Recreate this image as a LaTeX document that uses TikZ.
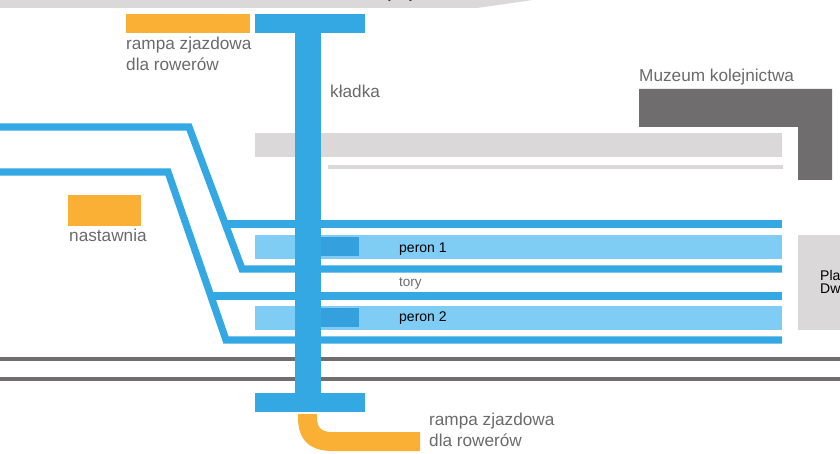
\documentclass[tikz,border=0pt]{standalone}
\usepackage{fontspec}
\setmainfont{Liberation Sans}
\definecolor{bluedark}{HTML}{34A8E2}
\definecolor{bluelight}{HTML}{7FCDF5}
\definecolor{bluemid}{HTML}{34A0DE}
\definecolor{greylight}{HTML}{DAD8D9}
\definecolor{greydark}{HTML}{6F6D6E}
\definecolor{orangeb}{HTML}{FAB034}
\definecolor{labelgrey}{HTML}{6A6A6A}
\tikzset{
 track/.style={draw=bluedark,line width=7.2pt,line join=miter},
 rail/.style={draw=greydark,line width=4.5pt},
 lbl/.style={inner sep=0pt,anchor=base west,text=labelgrey,font=\fontsize{17.2}{20.5}\selectfont,align=left},
 lblsmall/.style={inner sep=0pt,anchor=base west,font=\fontsize{14}{14}\selectfont,align=left},
}
\begin{document}
\begin{tikzpicture}[x=1pt,y=-1pt]
\useasboundingbox (0,0) rectangle (840,454);
\clip (0,0) rectangle (840,454);
% top grey
\fill[greylight] (0,0) -- (533,0) -- (477,8) -- (0,8) -- cycle;
\node[lblsmall,text=black,font=\fontsize{13.5}{14}\selectfont] (topt) at (364,-1) {kolejowy};
% grey platforms
\fill[greylight] (255,133) rectangle (782,157);
\fill[greylight] (328,165) rectangle (783,169);
\fill[greylight] (798,235) rectangle (840,330);
% museum
\fill[greydark] (639,89) -- (832,89) -- (832,180) -- (798,180) -- (798,127) -- (639,127) -- cycle;
% rails
\coordinate (r1a) at (0,359); \coordinate (r1b) at (840,359);
\coordinate (r2a) at (0,379); \coordinate (r2b) at (840,379);
\draw[rail] (r1a) -- (r1b);
\draw[rail] (r2a) -- (r2b);
% platforms
\fill[bluelight] (255,235) rectangle (782,259);
\fill[bluelight] (255,306) rectangle (782,330);
% tracks
\draw[track] (0,127) -- (189,127) -- (242,269) -- (782,269);
\draw[track] (0,172) -- (168,172) -- (226,340) -- (782,340);
\draw[track] (226,224) -- (782,224);
\draw[track] (212,296) -- (782,296);
% footbridge
\fill[bluemid] (321,237) rectangle (359,256);
\fill[bluemid] (321,308) rectangle (359,327);
\fill[bluedark] (295,33) rectangle (321,393);
\fill[bluedark] (255,14) rectangle (365,33);
\fill[bluedark] (255,393) rectangle (365,412);
% orange
\fill[orangeb] (126,14) rectangle (250,33);
\fill[orangeb] (68,195) rectangle (141,226);
\fill[orangeb] (298,414) -- (317,414) -- (317,418) .. controls (317,428) and (322,432) .. (332,432) -- (420,432) -- (420,451) -- (332,451) .. controls (310,451) and (298,440) .. (298,418) -- cycle;
% labels
\node[lbl] (r1) at (126,70.5) {rampa zjazdowa\\dla rowerów};
\node[lbl] (kl) at (330,98) {kładka};
\node[lbl] (mu) at (639,82) {Muzeum kolejnictwa};
\node[lbl] (na) at (69,241.5) {nastawnia};
\node[lbl] (r2) at (429,446) {rampa zjazdowa\\dla rowerów};
\node[lblsmall,text=black] (p1) at (399,252) {peron 1};
\node[lblsmall,text=black] (p2) at (399,321) {peron 2};
\node[lblsmall,text=labelgrey,font=\fontsize{13.5}{14}\selectfont] (to) at (399,286) {tory};
\node[inner sep=0pt,anchor=base west,text=black,font=\fontsize{14}{13}\selectfont,align=left] (pl) at (820,293) {Plac\\Dworcowy};
\end{tikzpicture}
\end{document}
